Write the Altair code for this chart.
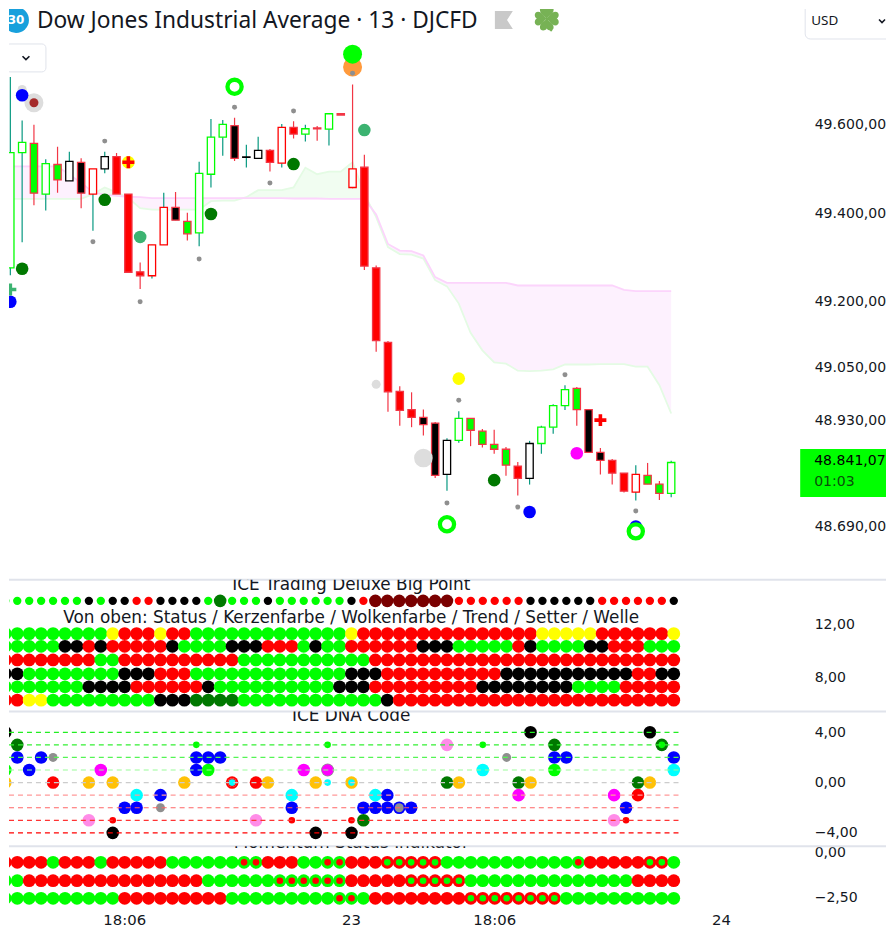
import altair as alt
import pandas as pd

FONT = "DejaVu Sans"
HEAD = "Noto Sans"
INK = "#131722"
LIME, RED, BLK, YEL, DGR, DRD = "#00ff00", "#ff0000", "#000000", "#ffff00", "#007800", "#7a0000"
BLU, MAG, CYA, AMB, PNK, GRY = "#0000ff", "#ff00ff", "#00ffff", "#ffc107", "#ff8ce8", "#8f8f8f"
SEA, ORG, PAL, TEAL, CRED = "#3cb371", "#ff9a3c", "#dddddd", "#089981", "#f23645"

# ---- candles (prices) ----
body_top = [49537,49560,49558,49512,49510,49517,49515,49500,49528,49528,49443,49267,49328,49413,49413,49381,49490,49572,49601,49598,49527,49542,49542,49594,49594,49591,49593,49625,49625,49500,49504,49276,49107,48996,48955,48937,48924,48885,48935,48935,48906,48876,48865,48827,48878,48915,48964,49000,49003,48955,48858,48840,48811,48808,48806,48786,48835]
body_bot = [49276,49537,49445,49443,49475,49473,49445,49443,49500,49443,49266,49258,49258,49328,49384,49353,49355,49488,49572,49524,49526,49524,49515,49513,49579,49579,49591,49590,49622,49458,49280,49111,48995,48953,48937,48921,48806,48808,48885,48908,48876,48865,48829,48799,48799,48878,48915,48964,48955,48858,48840,48811,48770,48768,48786,48765,48765]
high = [49708,49610,49600,49522,49550,49539,49524,49500,49539,49536,49443,49288,49328,49446,49448,49401,49516,49613,49611,49616,49555,49573,49545,49602,49608,49600,49597,49625,49625,49691,49532,49281,49110,49008,48994,48955,48927,48890,48951,48935,48911,48909,48870,48836,48884,48918,48967,49010,49006,48955,48868,48843,48811,48829,48834,48793,48839]
low = [49259,49334,49418,49406,49446,49473,49411,49360,49490,49443,49264,49228,49252,49328,49384,49338,49325,49458,49530,49518,49503,49524,49494,49503,49569,49562,49564,49553,49622,49456,49271,49086,48950,48918,48915,48896,48800,48771,48880,48872,48869,48855,48805,48760,48785,48855,48900,48954,48918,48858,48808,48785,48767,48749,48786,48750,48756]
candle_kind = list("GGAGAKBWKRRRWWBAGGGBDKRWRGRGAVRRRRRBBKGAAAARKGGGABBRRWAAG")
kind_style = {  # fill, border, wick
    "G": ("#ffffff", LIME, TEAL), "K": ("#ffffff", BLK, TEAL), "W": ("#ffffff", RED, TEAL),
    "V": ("#ffffff", RED, CRED), "R": (RED, CRED, CRED), "A": (LIME, CRED, CRED),
    "B": (BLK, CRED, CRED), "D": (BLK, BLK, TEAL),
}
# ---- cloud ----
cloud_pink = [49506,49506,49506,49506,49506,49487,49469,49447,49442,49439,49437,49436,49434,49434,49434,49434,49434,49434,49434,49434,49434,49434,49434,49434,49433,49433,49433,49432,49432,49432,49432,49397,49330,49315,49314,49304,49255,49242,49242,49242,49242,49242,49242,49236,49236,49236,49236,49236,49236,49236,49236,49236,49226,49223,49223,49223,49223]
cloud_green = [49432,49432,49432,49432,49432,49432,49432,49443,49458,49447,49434,49411,49408,49408,49408,49408,49408,49427,49428,49428,49436,49452,49452,49452,49458,49503,49488,49494,49494,49515,49443,49391,49323,49307,49306,49297,49248,49234,49195,49129,49089,49062,49059,49043,49042,49043,49046,49057,49057,49057,49058,49058,49058,49052,49052,49010,48946]
# ---- main-panel markers: index, price, colour, radius ----
main_markers = [
    (0,49732,GRY,2.5),(1,49680,PAL,4.5),(2,49650,PAL,9.5),(2,49650,"#a52a2a",4.5),(1,49667,BLU,6.3),
    (8,49563,GRY,2.5),(7,49335,GRY,2.5),(11,49199,GRY,2.5),(16,49296,GRY,2.5),(19,49640,GRY,2.5),
    (22,49468,GRY,2.5),(24,49631,GRY,2.5),(31,49012,PAL,4.5),(38,48976,GRY,2.5),(37,48743,GRY,2.5),
    (43,48734,GRY,2.5),(47,49034,GRY,2.5),(53,48725,GRY,2.5),
    (8,49430,DGR,6.3),(17,49398,DGR,6.3),(1,49274,DGR,6.3),(24,49511,DGR,6.3),(41,48795,DGR,6.3),
    (11,49346,SEA,6.3),(30,49588,SEA,6.3),(0,49199,BLU,6.3),(44,48723,BLU,6.3),(53,48690,BLU,6.3),
    (38,49025,YEL,6.3),(10,49515,YEL,6.3),(29,49731,ORG,9.5),(29,49760,LIME,9.5),(29,49717,GRY,2.5),
    (48,48856,MAG,6.3),(35,48845,PAL,9.3),
]
ring_i, ring_p = [19,37,53], [49686,48695,48679]
plus_i, plus_p, plus_c = [10,50,0], [49515,48931,49227], [RED,RED,SEA]
price_ticks = [49600,49400,49200,49050,48930,48690]
# ---- signal panel rows, as runs of (colour code, count) ----
top_row = [("L",7),("K",1),("L",1),("K",2),("R",2),("K",4),("L",1),("G",1),("L",3),("K",1),("L",6),("K",1),("R",1),("M",7),("R",6),("K",6),("R",6),("K",1)]
rows = [
 [("L",9),("Y",1),("R",3),("Y",1),("R",2),("L",13),("Y",1),("R",15),("Y",5),("R",6),("Y",1)],
 [("L",5),("K",2),("R",1),("K",1),("R",5),("K",1),("L",4),("K",3),("R",3),("L",1),("K",1),("L",2),("R",6),("K",3),("L",5),("R",1),("K",1),("L",4),("K",2),("R",3),("L",3)],
 [("R",8),("L",2),("R",10),("L",11),("R",26)],
 [("K",2),("L",8),("K",3),("R",3),("L",13),("K",3),("R",10),("K",11),("R",2),("K",2)],
 [("L",7),("K",4),("R",6),("K",1),("L",10),("K",3),("R",9),("K",8),("L",4),("R",5)],
 [("R",2),("Y",2),("L",9),("K",3),("D",4),("L",12),("K",1),("R",24)],
]
row_levels = [11.32,10.36,9.33,8.28,7.30,6.29]
top_level = 13.8
sig_colors = {"L":LIME,"K":BLK,"R":RED,"Y":YEL,"D":DGR,"G":DGR,"M":DRD}
# ---- DNA code: index, level, colour, radius ----
dna = [
 (0,4,BLK,6.3),(1,3,DGR,6.3),(1,2,BLU,6.3),(3,2,BLU,6.3),(4,2,GRY,4.5),(0,1,LIME,6.3),(2,1,BLU,6.3),(0,0,AMB,6.3),
 (4,0,RED,6.3),(7,0,AMB,6.3),(9,0,AMB,6.3),(8,1,MAG,6.3),(11,-1,CYA,6.3),(13,-1,BLU,6.3),(10,-2,BLU,6.3),(11,-2,BLU,6.3),
 (13,-2,GRY,4.5),(7,-3,PNK,6.3),(9,-3,RED,3.3),(9,-4,BLK,6.3),(16,3,LIME,3.3),(16,2,BLU,6.3),(17,2,BLU,6.3),(18,2,BLU,6.3),
 (16,1,BLU,6.3),(17,1,LIME,6.3),(15,0,AMB,6.3),(19,0,RED,6.3),(19,0,"#ffffff",4.4),(19,0,RED,4.4),(19,0,CYA,3.3),(21,0,RED,6.3),(22,0,AMB,6.3),
 (25,1,MAG,6.3),(27,1,GRY,6.5),(27,1,MAG,5.8),(27,3,LIME,3.3),(26,0,AMB,6.3),(27,0,CYA,3.3),(24,-1,CYA,6.3),(24,-2,BLU,6.3),
 (24,-3,RED,3.3),(21,-3,PNK,6.3),(26,-4,BLK,6.3),(29,0,AMB,6.3),(29,0,CYA,3.3),(29,-3,RED,3.3),(29,-4,BLK,6.3),(30,-3,DGR,6.3),
 (30,-2,BLU,6.3),(31,-2,BLU,6.3),(32,-2,BLU,6.3),(33,-2,BLU,6.3),(33,-2,GRY,4.5),(34,-2,BLU,6.3),(31,-1,CYA,6.3),(32,-1,BLU,6.3),
 (37,3,PNK,6.3),(37,0,DGR,6.3),(38,0,AMB,6.3),(40,3,LIME,3.3),(40,1,CYA,6.3),(42,2,GRY,4.5),(43,0,DGR,6.3),(44,0,AMB,6.3),
 (43,-1,MAG,6.3),(44,4,BLK,6.3),(46,3,DGR,6.3),(46,2,BLU,6.3),(47,2,BLU,6.3),(46,1,LIME,6.3),(51,-1,MAG,6.3),(53,-1,RED,6.3),
 (53,0,DGR,6.3),(54,0,AMB,6.3),(52,-2,BLU,6.3),(51,-3,PNK,6.3),(52,-3,RED,3.3),(54,4,BLK,6.3),(55,3,DGR,6.3),(55,3,LIME,3.3),
 (56,2,BLU,6.3),(56,1,CYA,6.3),
]
dna_levels = [4,3,2,1,0,-1,-2,-3,-4]
dna_line_colors = ["#22ee22","#33f033","#55f555","#99fb99","#cccccc","#ff9999","#ff6666","#ff3333","#ff0000"]
# ---- momentum: L lime, R red, l lime+red centre, r red+lime centre ----
mom_rows = [
 [("R",4),("L",1),("R",3),("L",1),("R",5),("L",6),("l",2),("R",3),("L",2),("l",2),("R",3),("r",5),("L",11),("l",1),("R",5),("r",2),("L",1)],
 [("L",2),("R",15),("L",6),("l",6),("R",5),("r",5),("L",14),("R",4)],
 [("L",10),("R",9),("L",9),("l",2),("L",1),("R",8),("r",8),("L",10)],
]
mom_levels = [-0.57,-1.59,-2.57]
time_i = [10,29,41,60]
time_labels = ["18:06","23","18:06","24"]
time_level = -3.83

# ---- scales and layout ----
W = 879
xs = alt.Scale(domain=[0.309, 0.309 + W/11.964], nice=False, zero=False)
num_expr = "replace(replace(replace(format(datum.value,',.2f'),',','#'),'.',','),'#','.')"
LBL = 14.1
def yaxis(vals):
    return alt.Axis(values=vals, orient="right", title=None, grid=False, domain=False, ticks=False, tickSize=0,
                    labelPadding=-72, labelExpr=num_expr, labelFont=FONT, labelFontSize=LBL, labelColor=INK, labelOverlap=False)

class Panel:
    def __init__(s, domain, ticks):
        s.ys = alt.Scale(domain=domain, nice=False, zero=False); s.ax = yaxis(ticks); s.layers = []
    def X(s, f="i"): return alt.X(f"{f}:Q", scale=xs, axis=None)
    def Y(s, f="v"): return alt.Y(f"{f}:Q", scale=s.ys, axis=s.ax)
    def circles(s, items):
        d = pd.DataFrame(items, columns=["i","v","c","r"]); d["s"] = (2*d.r)**2
        s.layers.append(alt.Chart(d).mark_circle(opacity=1, strokeWidth=0, clip=True).encode(
            x=s.X(), y=s.Y(), color=alt.Color("c:N", scale=None), size=alt.Size("s:Q", scale=None)))
    def text(s, txt, x, y, size, color=INK, align="left", weight="normal", clip=True, font=FONT):
        s.layers.append(alt.Chart(pd.DataFrame({"t":[txt]})).mark_text(font=font, fontSize=size, color=color, align=align,
            baseline="middle", fontWeight=weight, clip=clip).encode(x=alt.value(x), y=alt.value(y), text="t:N"))
    def sep(s):
        s.layers.append(alt.Chart(pd.DataFrame({"a":[0]})).mark_rule(color="#e0e3eb", strokeWidth=2).encode(
            x=alt.value(0), x2=alt.value(W), y=alt.value(0)))
    def shape(s, path, x, y, size, fill=None, stroke=None, sw=1.5):
        kw = dict(fill=fill, filled=True, strokeWidth=0) if fill else dict(stroke=stroke, strokeWidth=sw, filled=False)
        s.layers.append(alt.Chart(pd.DataFrame({"a":[0]})).mark_point(shape=path, size=size, opacity=1, clip=True, **kw).encode(
            x=alt.value(x), y=alt.value(y)))
    def rect(s, x, x2, y, y2, fill, stroke=None, radius=0):
        kw = dict(stroke=stroke, strokeWidth=1) if stroke else {}
        s.layers.append(alt.Chart(pd.DataFrame({"a":[0]})).mark_rect(fill=fill, cornerRadius=radius, clip=True, **kw).encode(
            x=alt.value(x), x2=alt.value(x2), y=alt.value(y), y2=alt.value(y2)))
    def chart(s, h):
        return alt.layer(*s.layers).properties(width=W, height=h)

def expand(runs):
    return [c for c,n in runs for _ in range(n)]

# ---- panel 1: price ----
p1 = Panel([48569.4,49862.2], price_ticks)
cd = pd.DataFrame({"i":range(57),"pink":cloud_pink,"green":cloud_green})
cd["hi"] = cd[["pink","green"]].max(axis=1)
p1.layers.append(alt.Chart(cd).mark_area(color="#fdf1fe", opacity=1, clip=True).encode(x=p1.X(), y=p1.Y("hi"), y2="green:Q"))
p1.layers.append(alt.Chart(cd).mark_area(color="#f1fdf1", opacity=1, clip=True).encode(x=p1.X(), y=p1.Y("hi"), y2="pink:Q"))
p1.layers.append(alt.Chart(cd).mark_line(color="#e4fbe4", strokeWidth=1.8, clip=True).encode(x=p1.X(), y=p1.Y("green")))
p1.layers.append(alt.Chart(cd).mark_line(color="#fcd4fc", strokeWidth=1.8, clip=True).encode(x=p1.X(), y=p1.Y("pink")))
cdl = pd.DataFrame({"i":range(57),"top":body_top,"bot":body_bot,"high":high,"low":low,
    "f":[kind_style[k][0] for k in candle_kind],"b":[kind_style[k][1] for k in candle_kind],"w":[kind_style[k][2] for k in candle_kind]})
p1.layers.append(alt.Chart(cdl).mark_rule(strokeWidth=1.2, clip=True).encode(x=p1.X(), y=p1.Y("low"), y2="high:Q", color=alt.Color("w:N", scale=None)))
p1.layers.append(alt.Chart(cdl).mark_bar(size=7.3, strokeWidth=1.3, clip=True).encode(x=p1.X(), y=p1.Y("bot"), y2="top:Q",
    fill=alt.Fill("f:N", scale=None), stroke=alt.Stroke("b:N", scale=None)))
p1.circles(main_markers)
rd = pd.DataFrame({"i":ring_i,"v":ring_p})
p1.layers.append(alt.Chart(rd).mark_point(shape="circle", size=202, fill="#ffffff", stroke=LIME, strokeWidth=4.3, opacity=1, filled=True, clip=True).encode(x=p1.X(), y=p1.Y()))
PLUS = "M-1,-.3H-.3V-1H.3V-.3H1V.3H.3V1H-.3V.3H-1Z"
pd_ = pd.DataFrame({"i":plus_i,"v":plus_p,"c":plus_c})
p1.layers.append(alt.Chart(pd_).mark_point(shape=PLUS, size=144, filled=True, opacity=1, strokeWidth=0, clip=True).encode(x=p1.X(), y=p1.Y(), fill=alt.Fill("c:N", scale=None)))
# header and controls
p1.layers.append(alt.Chart(pd.DataFrame({"a":[0]})).mark_circle(color="#18a0dc", size=676, opacity=1, clip=True).encode(x=alt.value(7), y=alt.value(11)))
p1.text("30", 7, 11, 12, "#ffffff", "center", "bold")
p1.text("Dow Jones Industrial Average · 13 · DJCFD", 28, 12, 22.8, font=HEAD, clip=False)
p1.shape("M-1,-1H1L.35,0L1,1H-1Z", 496, 11, 324, fill="#c9c9c9")
LEAVES = ["M0,.05C-.15,-.25,-.55,-.35,-.55,-.7C-.55,-1,-.15,-1.05,0,-.8C.15,-1.05,.55,-1,.55,-.7C.55,-.35,.15,-.25,0,.05Z",
          "M-.05,0C.25,-.15,.35,-.55,.7,-.55C1,-.55,1.05,-.15,.8,0C1.05,.15,1,.55,.7,.55C.35,.55,.25,.15,-.05,0Z",
          "M0,-.05C.15,.25,.55,.35,.55,.7C.55,1,.15,1.05,0,.8C-.15,1.05,-.55,1,-.55,.7C-.55,.35,-.15,.25,0,-.05Z",
          "M.05,0C-.25,.15,-.35,.55,-.7,.55C-1,.55,-1.05,.15,-.8,0C-1.05,-.15,-1,-.55,-.7,-.55C-.35,-.55,-.25,-.15,.05,0Z"]
for leaf in LEAVES:
    p1.shape(leaf, 539, 9.5, 625, fill="#77b255")
p1.shape("M0,0C.1,.5,.2,.8,.4,1", 539, 9.5, 625, stroke="#77b255", sw=2)
p1.rect(798, 892, -6, 30, "#ffffff", "#e0e3eb", 5)
p1.text("USD", 804, 12, 13.5, "#131722", font=HEAD)
p1.shape("M-1,-.5L0,.5L1,-.5", 875, 12, 36, stroke="#131722", sw=1.6)
p1.rect(-3, 37, 35, 63, "#ffffff", "#e0e3eb", 4)
p1.shape("M-1,-.5L0,.5L1,-.5", 17, 49, 48, stroke="#131722", sw=1.6)
# last-price tag
p1.rect(793, 887, 441, 489, LIME)
p1.text("48.841,07", 807, 453, LBL, "#000000")
p1.text("01:03", 807, 474, LBL, "#0b4f0b")

# ---- panel 2: signals ----
p2 = Panel([5.434,15.396], [12,8])
p2.sep()
p2.circles([(k, top_level, sig_colors[c], 6.3 if c in "GM" else 4.2) for k,c in enumerate(expand(top_row))])
for lvl,runs in zip(row_levels, rows):
    p2.circles([(k, lvl, sig_colors[c], 6.4) for k,c in enumerate(expand(runs))])
p2.text("ICE Trading Deluxe Big Point", 343, 5, 16.9, "#131722", "center")
p2.text("Von oben: Status / Kerzenfarbe / Wolkenfarbe / Trend / Setter / Welle", 343, 38, 16.9, "#131722", "center")

# ---- panel 3: DNA ----
p3 = Panel([-5.056,5.659], [4,0,-4])
p3.sep()
p3.circles(dna)
ld = pd.DataFrame({"v":dna_levels,"c":dna_line_colors,"a":[0.31]*9,"b":[56.72]*9})
p3.layers.append(alt.Chart(ld).mark_rule(strokeDash=[5,4], strokeWidth=1.2).encode(x=p3.X("a"), x2="b:Q", y=p3.Y(), color=alt.Color("c:N", scale=None)))
p3.text("ICE DNA Code", 343, 5, 16.9, "#131722", "center")

# ---- panel 4: momentum ----
p4 = Panel([-4.167,0.333], [0,-2.5])
p4.sep()
for lvl,runs in zip(mom_levels, mom_rows):
    seq = expand(runs)
    p4.circles([(k, lvl, RED if c in "Rr" else LIME, 6.4) for k,c in enumerate(seq)])
    p4.circles([(k, lvl, LIME if c=="r" else RED, 3.3) for k,c in enumerate(seq) if c in "lr"])
p4.text("Momentum Status Indikator", 343, -3, 16.9, "#131722", "center")
td = pd.DataFrame({"i":time_i,"t":time_labels,"v":[time_level]*4})
p4.layers.append(alt.Chart(td).mark_text(font=FONT, fontSize=LBL+0.8, color=INK, baseline="middle", clip=True).encode(x=p4.X(), y=p4.Y(), text="t:N"))

chart = alt.vconcat(p1.chart(572), p2.chart(132), p3.chart(135), p4.chart(81), spacing=0, bounds="flush").properties(
    padding=0).configure_view(stroke=None)
chart.save("out.html", embed_options={"renderer": "svg", "actions": False})
